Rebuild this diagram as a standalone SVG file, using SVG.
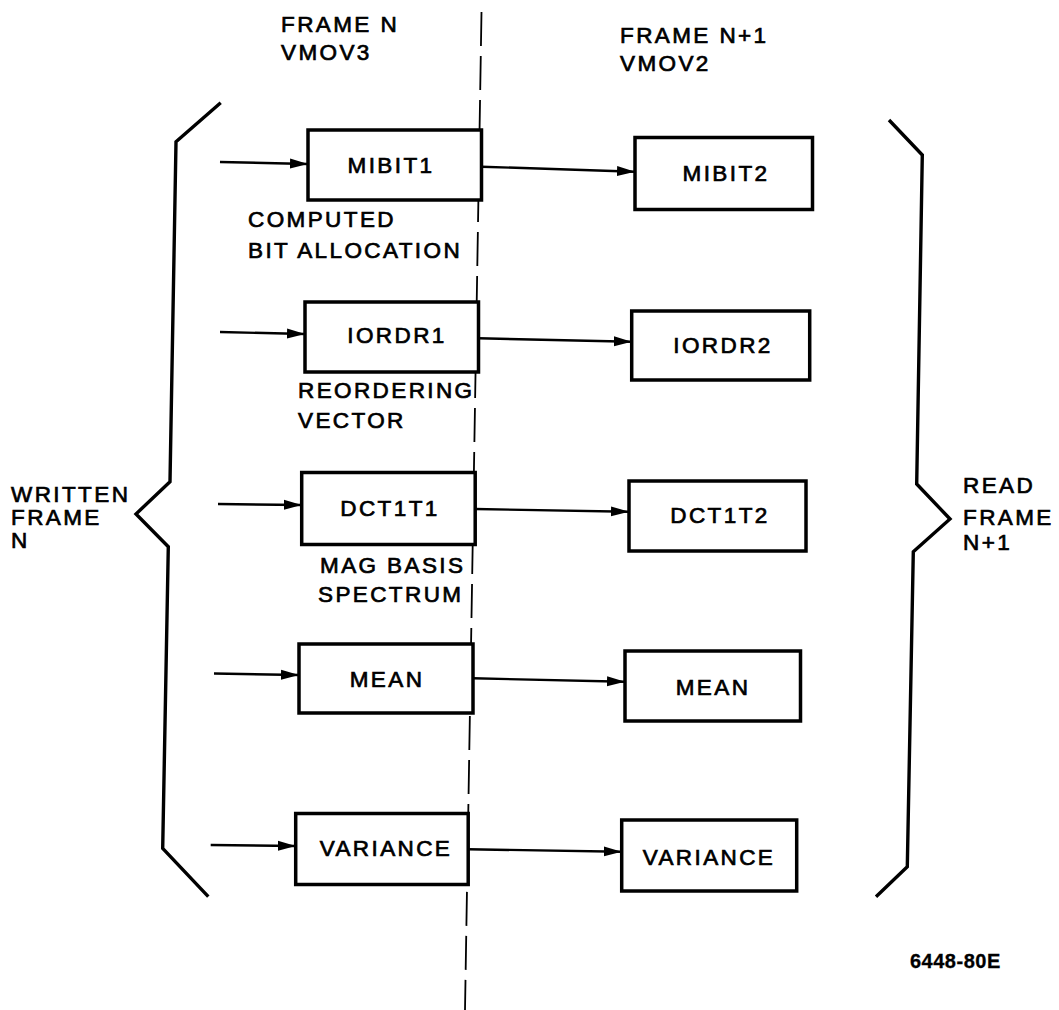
<svg xmlns="http://www.w3.org/2000/svg" width="1059" height="1010" viewBox="0 0 1059 1010">
  <defs>
    <marker id="arrow" markerUnits="userSpaceOnUse" markerWidth="20" markerHeight="12" refX="18" refY="6" orient="auto">
      <path d="M0,1 L18,6 L0,11 Z" fill="#000"/>
    </marker>
    <style>
      text { font-family: "Liberation Sans", Arial, sans-serif; font-size: 22.5px; letter-spacing: 2.4px; fill: #000; stroke: #000; stroke-width: 0.7px; }
      .box rect { fill: #fff; stroke: #000; stroke-width: 3.5; }
      .box text { text-anchor: middle; dominant-baseline: central; }
      .brace { fill: none; stroke: #000; stroke-width: 3.4; stroke-linejoin: miter; }
      .conn line { stroke: #000; stroke-width: 2.4; marker-end: url(#arrow); }
      .divider { stroke: #000; stroke-width: 1.8; stroke-dasharray: 34 10; fill: none; }
      .tag { font-weight: bold; font-size: 20px; letter-spacing: 0.5px; stroke-width: 0.3px; }
    </style>
  </defs>
  <rect width="1059" height="1010" fill="#fff"/>

  <!-- frame boundary -->
  <line class="divider" x1="481.5" y1="12" x2="465" y2="1010"/>

  <!-- column headers -->
  <g id="header-frame-n">
    <text x="281" y="32">FRAME N</text>
    <text x="281" y="60">VMOV3</text>
  </g>
  <g id="header-frame-n1">
    <text x="620" y="43">FRAME N+1</text>
    <text x="620" y="71">VMOV2</text>
  </g>

  <!-- braces -->
  <g id="brace-written">
    <path class="brace" d="M220.7,102.7 L176,141.7 L170,481.7 L136,514 L168.3,546.7 L162.7,848.3 L208.3,896.7"/>
    <text x="11" y="502">WRITTEN</text>
    <text x="11" y="525">FRAME</text>
    <text x="11" y="548">N</text>
  </g>
  <g id="brace-read">
    <path class="brace" d="M889,120 L922.3,155 L916.7,484 L950,519 L913.3,551.7 L907.3,866.7 L876,896.7"/>
    <text x="963" y="493">READ</text>
    <text x="963" y="525">FRAME</text>
    <text x="963" y="550">N+1</text>
  </g>

  <!-- frame N buffers -->
  <g id="mibit1" class="box">
    <rect x="308" y="130" width="173.5" height="70"/>
    <text x="391" y="165">MIBIT1</text>
  </g>
  <g id="iordr1" class="box">
    <rect x="305" y="302" width="173.5" height="70"/>
    <text x="397" y="335">IORDR1</text>
  </g>
  <g id="dct1t1" class="box">
    <rect x="301.7" y="472.5" width="173.5" height="72"/>
    <text x="390" y="508">DCT1T1</text>
  </g>
  <g id="mean1" class="box">
    <rect x="299" y="644" width="174" height="69"/>
    <text x="387" y="679">MEAN</text>
  </g>
  <g id="variance1" class="box">
    <rect x="295.7" y="813.5" width="172.5" height="71"/>
    <text x="386" y="848.5">VARIANCE</text>
  </g>

  <!-- frame N+1 buffers -->
  <g id="mibit2" class="box">
    <rect x="635" y="137.5" width="177.5" height="72"/>
    <text x="726" y="173">MIBIT2</text>
  </g>
  <g id="iordr2" class="box">
    <rect x="631.7" y="311" width="178" height="69"/>
    <text x="723" y="345">IORDR2</text>
  </g>
  <g id="dct1t2" class="box">
    <rect x="629" y="481" width="177" height="70"/>
    <text x="720" y="515">DCT1T2</text>
  </g>
  <g id="mean2" class="box">
    <rect x="625" y="651" width="175.5" height="70"/>
    <text x="713" y="687">MEAN</text>
  </g>
  <g id="variance2" class="box">
    <rect x="621.7" y="820" width="175" height="71"/>
    <text x="709" y="857">VARIANCE</text>
  </g>

  <!-- buffer descriptions -->
  <g id="labels">
    <text x="248" y="227">COMPUTED</text>
    <text x="248" y="258">BIT ALLOCATION</text>
    <text x="298" y="398">REORDERING</text>
    <text x="298" y="428">VECTOR</text>
    <text x="320" y="573">MAG BASIS</text>
    <text x="318" y="602">SPECTRUM</text>
  </g>

  <!-- connectors -->
  <g id="connectors" class="conn">
    <line x1="220" y1="162" x2="308" y2="164"/>
    <line x1="220" y1="332" x2="305" y2="334"/>
    <line x1="218" y1="504" x2="301.7" y2="505"/>
    <line x1="214" y1="673.5" x2="299" y2="675"/>
    <line x1="210.7" y1="845" x2="295.7" y2="846"/>

    <line x1="481.5" y1="166.7" x2="635" y2="171.7"/>
    <line x1="478.5" y1="338.3" x2="631.7" y2="341.7"/>
    <line x1="475.2" y1="509" x2="629" y2="511.7"/>
    <line x1="473" y1="678.3" x2="625" y2="681.7"/>
    <line x1="468.2" y1="849.3" x2="621.7" y2="851.7"/>
  </g>

  <text class="tag" x="910" y="968">6448-80E</text>
</svg>
